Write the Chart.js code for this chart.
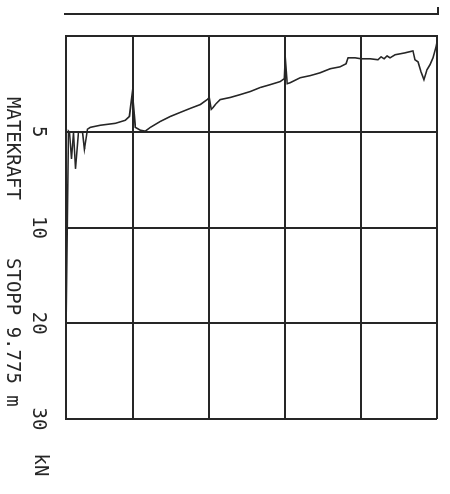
<!DOCTYPE html>
<html>
<head>
<meta charset="utf-8">
<script src="https://cdn.jsdelivr.net/npm/chart.js@4.4.1/dist/chart.umd.min.js"></script>
<style>
  html, body { margin: 0; padding: 0; background: #fff; overflow: hidden; }
  #wrap {
    position: absolute; left: 0; top: 0;
    width: 494px; height: 450px;
    transform-origin: 0 0;
    transform: translateX(450px) rotate(90deg);
  }
</style>
</head>
<body>
<div id="wrap"><canvas id="chart" width="494" height="450"></canvas></div>
<script>
// Force axis ticks (kN) - the plotter grid is not linear: 0-10 in steps of 5, then steps of 10
const forceTicks = [0, 5, 10, 20, 30];
// Depth grid (m), stop depth last
const depthTicks = [0, 2, 4, 6, 8, 9.775];
const stopDepth = 9.775;

// Feed force readings along the probe
const depth = [
  0, 0.026, 0.105, 0.184, 0.263, 0.342, 0.421, 0.5, 0.579, 0.632,
  0.842, 1.105, 1.237, 1.316, 1.395, 1.474, 1.553, 1.763, 2.0, 2.158,
  2.342, 2.395, 2.553, 2.816, 3.079, 3.342, 3.605, 3.868, 3.947, 4.0,
  4.026, 4.132, 4.395, 4.658, 4.921, 5.184, 5.447, 5.711, 5.842, 5.895,
  5.947, 6.0, 6.053, 6.237, 6.5, 6.763, 7.026, 7.289, 7.553, 7.684,
  7.816, 7.947, 8.026, 8.105, 8.211, 8.474, 8.868, 9.132, 9.211, 9.289,
  9.342, 9.447, 9.526, 9.579, 9.632, 9.684, 9.711, 9.77
];
const force = [
  0.31, 0.57, 1.14, 1.50, 1.76, 2.28, 1.87, 1.35, 1.24, 0.78,
  0.88, 0.98, 1.14, 1.04, 1.19, 1.09, 1.24, 1.19, 1.19, 1.14,
  1.14, 1.45, 1.61, 1.71, 1.92, 2.07, 2.18, 2.44, 2.49, 1.09,
  2.23, 2.38, 2.54, 2.69, 2.90, 3.06, 3.21, 3.32, 3.58, 3.73,
  3.83, 3.21, 3.32, 3.58, 3.78, 3.99, 4.20, 4.46, 4.77, 4.97,
  4.92, 4.77, 2.95, 4.20, 4.40, 4.56, 4.66, 4.77, 4.87, 5.91,
  5.03, 5.03, 6.94, 5.03, 6.42, 5.03, 4.97, 19.0
];

const ink = "#262626";
const font = "DejaVu Sans Mono";

// kN -> position on the uneven grid (0..forceTicks.length-1)
function forceToUnit(v) {
  for (let i = 0; i < forceTicks.length - 1; i++) {
    if (v <= forceTicks[i + 1]) {
      return i + (v - forceTicks[i]) / (forceTicks[i + 1] - forceTicks[i]);
    }
  }
  return forceTicks.length - 1;
}

class PiecewiseScale extends Chart.LinearScale {
  getPixelForValue(value) {
    if (value === null || value === undefined) return NaN;
    return this.getPixelForDecimal(forceToUnit(value) / (forceTicks.length - 1));
  }
}
PiecewiseScale.id = "piecewise";
PiecewiseScale.defaults = Chart.LinearScale.defaults;
Chart.register(PiecewiseScale);

// extra plotter texts + the empty side track
const decor = {
  id: "decor",
  afterDraw(chart) {
    const ctx = chart.ctx;
    const a = chart.chartArea;
    const y = chart.scales.y;
    ctx.save();
    ctx.fillStyle = ink;
    ctx.font = "19px " + font;
    ctx.textBaseline = "middle";
    ctx.textAlign = "center";
    ctx.fillText("kN", a.right + 46, a.bottom + 26);
    ctx.textAlign = "left";
    ctx.fillText("MATEKRAFT", a.left + 61, a.bottom + 54);
    ctx.fillText("STOPP 9.775 m", a.left + 222, a.bottom + 54);

    const tx = a.left - 22;
    const t0 = y.getPixelForValue(0) - 1;
    const t1 = y.getPixelForValue(stopDepth) + 2;
    ctx.strokeStyle = ink;
    ctx.lineWidth = 2;
    ctx.beginPath();
    ctx.moveTo(tx - 7, t0);
    ctx.lineTo(tx, t0);
    ctx.lineTo(tx, t1);
    ctx.stroke();
    ctx.restore();
  }
};

new Chart(document.getElementById("chart"), {
  type: "scatter",
  data: {
    datasets: [{
      label: "Matekraft",
      data: depth.map((d, i) => ({ x: force[i], y: d })),
      showLine: true,
      borderColor: ink,
      borderWidth: 1.6,
      pointRadius: 0,
      tension: 0
    }]
  },
  options: {
    responsive: false,
    animation: false,
    events: [],
    layout: { padding: { left: 36, top: 13, right: 75, bottom: 0 } },
    plugins: { legend: { display: false }, tooltip: { enabled: false } },
    scales: {
      x: {
        type: "piecewise",
        position: "bottom",
        min: 0,
        max: 30,
        afterBuildTicks: s => { s.ticks = forceTicks.map(v => ({ value: v })); },
        afterFit: s => { s.height = 66; },
        grid: { color: ink, lineWidth: 2, drawTicks: false },
        border: { color: ink, width: 2 },
        ticks: {
          color: ink,
          padding: 17,
          maxRotation: 0,
          font: { family: font, size: 19 },
          callback: v => (v === 0 ? "" : String(v))
        }
      },
      y: {
        type: "linear",
        reverse: true,
        min: 0,
        max: stopDepth,
        afterBuildTicks: s => { s.ticks = depthTicks.map(v => ({ value: v })); },
        afterFit: s => { s.width = 0; },
        grid: { color: ink, lineWidth: 2, drawTicks: false },
        border: { color: ink, width: 2 },
        ticks: { display: false }
      }
    }
  },
  plugins: [decor]
});
</script>
</body>
</html>
